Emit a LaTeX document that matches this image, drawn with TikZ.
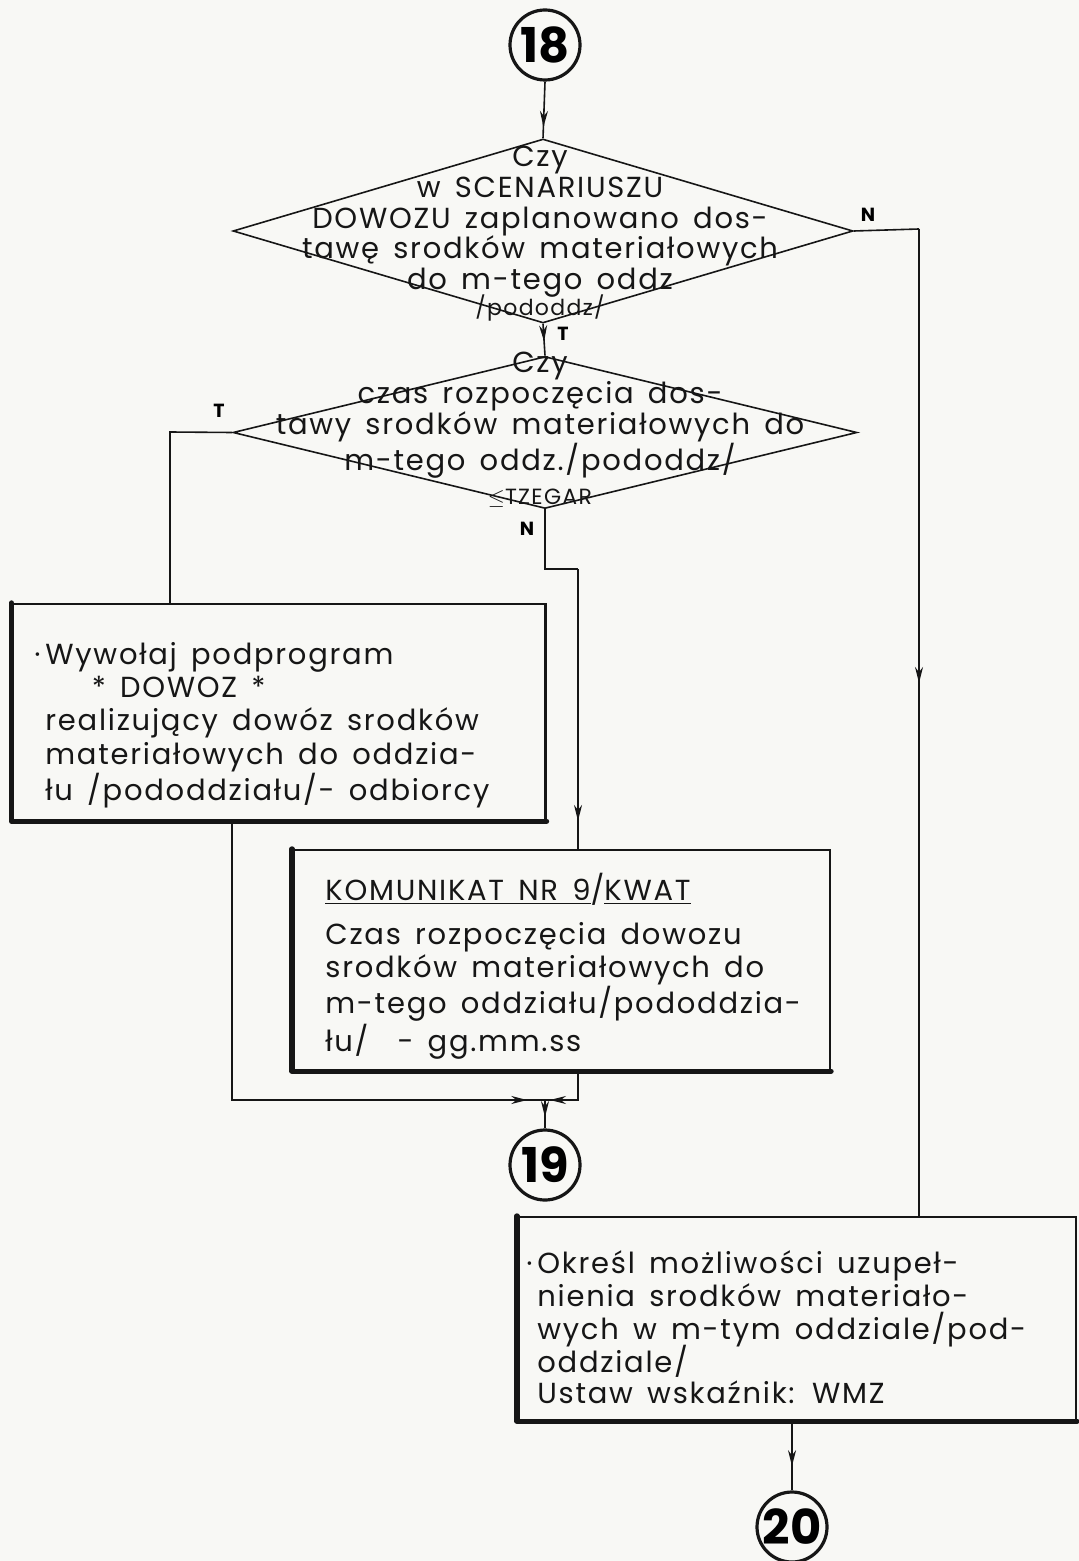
\documentclass[tikz,border=0pt]{standalone}
\usepackage{fontspec}
\setmainfont{Poppins}
\newfontfamily\hand[LetterSpace=6, WordSpace=1.5]{Poppins}
\usetikzlibrary{shapes.geometric,arrows.meta,decorations.markings}

\definecolor{paper}{RGB}{248,248,245}
\definecolor{ink}{RGB}{22,22,22}

\newcommand\boxfont{\hand\fontsize{14.5}{16.6}\selectfont}
\newcommand\decfont{\hand\fontsize{14.5}{15.3}\selectfont}

\tikzset{
  x=0.5pt, y=-0.5pt,
  flow/.style={draw=ink, line width=0.8pt},
  midarrow/.style={postaction={decorate},
    decoration={markings, mark=at position #1 with {\arrow{Stealth[length=8pt,width=4pt]}}}},
  midarrow/.default=0.5,
  decision/.style={diamond, draw=ink, line width=0.8pt, inner sep=0pt},
  procbox/.style={rectangle, draw=ink, line width=1.1pt, inner sep=0pt},
  connector/.style={circle, draw=ink, line width=1.6pt, minimum size=35pt, inner sep=0pt,
    font=\fontsize{24}{24}\selectfont\bfseries},
  branch/.style={font=\fontsize{9.5}{10}\selectfont\bfseries, inner sep=0pt},
  boxtext/.style={anchor=north west, align=left, inner sep=0pt, font=\boxfont, text=ink},
  dectext/.style={align=center, font=\decfont, text=ink, inner sep=0pt},
}

\begin{document}
\begin{tikzpicture}
\fill[paper] (0,0) rectangle (1079,1561);
\useasboundingbox (0,0) rectangle (1079,1561);

% off-page connectors
\node[connector] (c18) at (545,45) {18};
\node[connector] (c19) at (545,1165) {19};
\node[connector] (c20) at (792,1527) {20};

% decisions
\node[decision, minimum width=310pt, minimum height=92pt] (d1) at (543,231) {};
\node[decision, minimum width=312pt, minimum height=76pt] (d2) at (545,432.5) {};

\node[dectext] at (540,234)
  {Czy\\ w SCENARIUSZU\\ DOWOZU zaplanowano dos-\\ tawę srodków materiałowych\\ do m-tego oddz\\[-2pt] {\fontsize{11}{11}\selectfont /pododdz/}};
\node[dectext] at (540,430)
  {Czy\\ czas rozpoczęcia dos-\\ tawy srodków materiałowych do\\ m-tego oddz./pododdz/\\[1.5pt] {\fontsize{11}{11}\selectfont $\leq$TZEGAR}};

% process boxes
\node[procbox, minimum width=266.5pt, minimum height=108pt] (b1) at (279,712) {};
\node[procbox, minimum width=268.5pt, minimum height=110pt] (b2) at (561.5,960) {};
\node[procbox, minimum width=279pt, minimum height=101.5pt] (b3) at (797,1318.5) {};
\foreach \b in {b1,b2,b3}
  \draw[ink, line width=2.6pt, line cap=round, line join=round]
    (\b.north west) -- (\b.south west) -- (\b.south east);

\node[boxtext] at (45,642)
  {\llap{·\,}Wywołaj podprogram\\
   \hspace*{1.6em}* DOWOZ *\\
   realizujący dowóz srodków\\
   materiałowych do oddzia-\\
   łu /pododdziału/- odbiorcy};

\node[boxtext, font=\hand\fontsize{14.5}{16.1}\selectfont] at (325,873)
  {\underline{KOMUNIKAT NR 9}/\underline{KWAT}\\[6pt]
   Czas rozpoczęcia dowozu\\
   srodków materiałowych do\\
   m-tego oddziału/pododdzia-\\
   łu/\quad - gg.mm.ss};

\node[boxtext] at (537,1250)
  {\llap{·\,}Określ możliwości uzupeł-\\
   nienia srodków materiało-\\
   wych w m-tym oddziale/pod-\\[-2pt]
   oddziale/\\[-1pt]
   Ustaw wskaźnik: WMZ};

% routing points
\coordinate (rN) at (919,229);
\coordinate (lT) at (170,432);
\coordinate (nJog1) at (545,569);
\coordinate (nJog2) at (578,569);
\coordinate (j) at (545,1100);
\coordinate (jl) at (232,1100);
\coordinate (jr) at (578,1100);

% flow lines
\draw[flow, midarrow=0.8] (c18.south) -- (d1.north);
\draw[flow, midarrow=0.55] (d1.south) -- (d2.north);
\draw[flow] (d1.east) -- (rN);
\draw[flow, midarrow=0.46] (rN) -- (rN |- b3.north);
\draw[flow] (d2.west) -- (lT) -- (lT |- b1.north);
\draw[flow] (d2.south) -- (nJog1) -- (nJog2);
\draw[flow, midarrow=0.9] (nJog2) -- (nJog2 |- b2.north);
\draw[flow, midarrow=0.97] (jl |- b1.south) -- (jl) -- (j);
\draw[flow, midarrow=0.92] (jr |- b2.south) -- (jr) -- (j);
\draw[flow, midarrow=0.6] (j) -- (c19.north);
\draw[flow, midarrow=0.65] (c20.north |- b3.south) -- (c20.north);

% branch labels
\node[branch] at (868,215) {N};
\node[branch] at (563,334) {T};
\node[branch] at (219,411) {T};
\node[branch] at (527,529) {N};
\end{tikzpicture}
\end{document}
